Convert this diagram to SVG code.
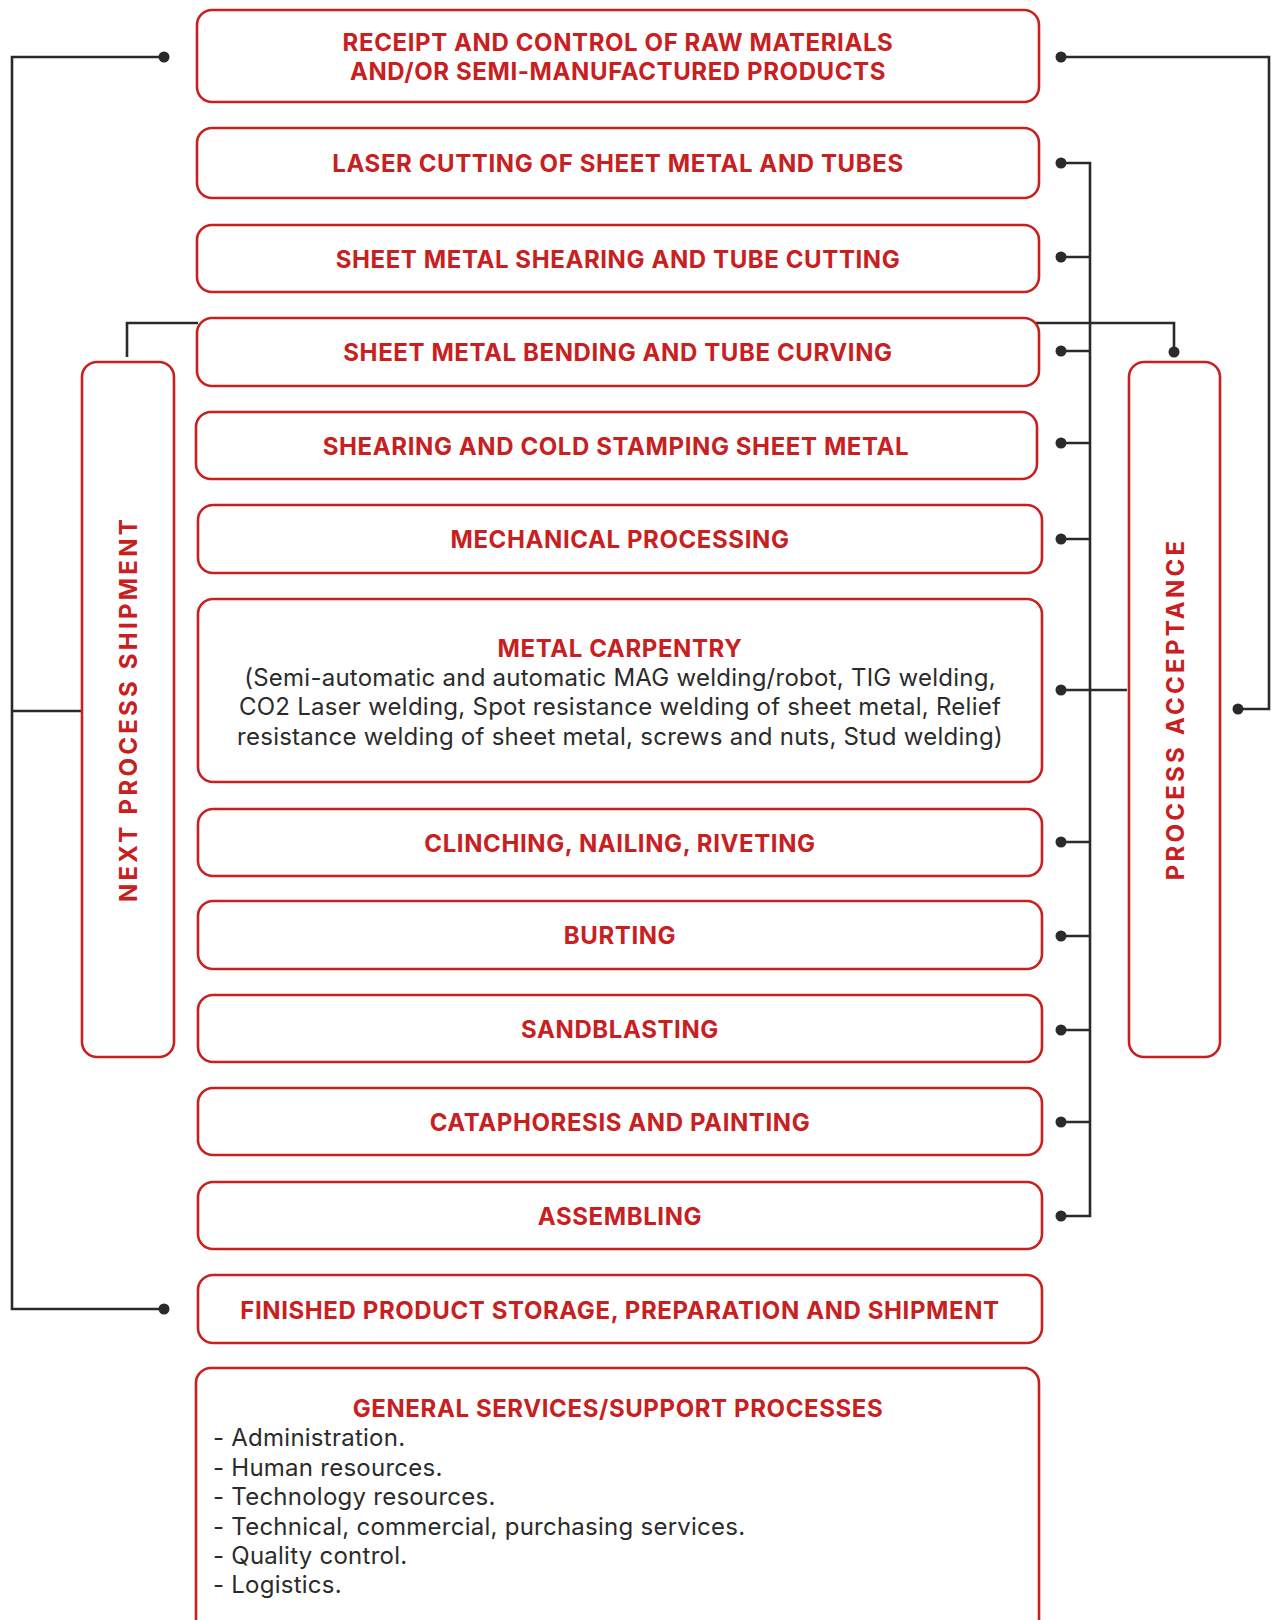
<svg xmlns="http://www.w3.org/2000/svg" width="1271" height="1620" viewBox="0 0 1271 1620">
<defs>
<style>
.box{fill:#fff;stroke:#c8201f;stroke-width:2.6}
.t{font-family:Inter,"Noto Sans","Liberation Sans",sans-serif;font-weight:700;font-size:24px;letter-spacing:0.6px;fill:#c8201f;text-anchor:middle;dominant-baseline:central}
.v{font-family:Inter,"Noto Sans","Liberation Sans",sans-serif;font-weight:700;font-size:24px;fill:#c8201f;text-anchor:middle;dominant-baseline:central;letter-spacing:3.25px}
.b{font-family:Inter,"Noto Sans","Liberation Sans",sans-serif;font-weight:400;font-size:24px;letter-spacing:0.25px;fill:#2b2b2b;dominant-baseline:central}
.c{text-anchor:middle}
.ln{fill:none;stroke:#2a2a2a;stroke-width:2.6}
.dot{fill:#2a2a2a}
</style>
</defs>
<rect width="1271" height="1620" fill="#fff"/>
<g id="connectors">
<path class="ln" d="M164 57 H12 V1309 H164"/>
<path class="ln" d="M82 711 H12"/>
<path class="ln" d="M127 357 V323 H198"/>
<path class="ln" d="M1061 57 H1269 V709 H1238"/>
<path class="ln" d="M1036 323 H1174 V352"/>
<path class="ln" d="M1061 163 H1090 V1216 H1061"/>
<path class="ln" d="M1061 257 H1090 M1061 351 H1090 M1061 443 H1090 M1061 539 H1090 M1061 690 H1127 M1061 842 H1090 M1061 936 H1090 M1061 1030 H1090 M1061 1122 H1090"/>
<circle class="dot" cx="164" cy="57" r="5.5"/>
<circle class="dot" cx="164" cy="1309" r="5.5"/>
<circle class="dot" cx="1061" cy="57" r="5.5"/>
<circle class="dot" cx="1238" cy="709" r="5.5"/>
<circle class="dot" cx="1174" cy="352" r="5.5"/>
<circle class="dot" cx="1061" cy="163" r="5.5"/>
<circle class="dot" cx="1061" cy="257" r="5.5"/>
<circle class="dot" cx="1061" cy="351" r="5.5"/>
<circle class="dot" cx="1061" cy="443" r="5.5"/>
<circle class="dot" cx="1061" cy="539" r="5.5"/>
<circle class="dot" cx="1061" cy="690" r="5.5"/>
<circle class="dot" cx="1061" cy="842" r="5.5"/>
<circle class="dot" cx="1061" cy="936" r="5.5"/>
<circle class="dot" cx="1061" cy="1030" r="5.5"/>
<circle class="dot" cx="1061" cy="1122" r="5.5"/>
<circle class="dot" cx="1061" cy="1216" r="5.5"/>
</g>
<g id="n1"><rect class="box" x="197" y="10" width="842" height="92" rx="15"/>
<text class="t" x="618" y="42">RECEIPT AND CONTROL OF RAW MATERIALS</text>
<text class="t" x="618" y="71">AND/OR SEMI-MANUFACTURED PRODUCTS</text></g>
<g id="n2"><rect class="box" x="197" y="128" width="842" height="70" rx="15"/>
<text class="t" x="618" y="163">LASER CUTTING OF SHEET METAL AND TUBES</text></g>
<g id="n3"><rect class="box" x="197" y="225" width="842" height="67" rx="15"/>
<text class="t" x="618" y="259">SHEET METAL SHEARING AND TUBE CUTTING</text></g>
<g id="n4"><rect class="box" x="197" y="318" width="842" height="68" rx="15"/>
<text class="t" x="618" y="352">SHEET METAL BENDING AND TUBE CURVING</text></g>
<g id="n5"><rect class="box" x="196" y="412" width="841" height="67" rx="15"/>
<text class="t" x="616" y="446">SHEARING AND COLD STAMPING SHEET METAL</text></g>
<g id="n6"><rect class="box" x="198" y="505" width="844" height="68" rx="15"/>
<text class="t" x="620" y="539">MECHANICAL PROCESSING</text></g>
<g id="n7"><rect class="box" x="198" y="599" width="844" height="183" rx="15"/>
<text class="t" x="620" y="648">METAL CARPENTRY</text>
<text class="b c" x="620" y="677">(Semi-automatic and automatic MAG welding/robot, TIG welding,</text>
<text class="b c" x="620" y="706">CO2 Laser welding, Spot resistance welding of sheet metal, Relief</text>
<text class="b c" x="620" y="736">resistance welding of sheet metal, screws and nuts, Stud welding)</text></g>
<g id="n8"><rect class="box" x="198" y="809" width="844" height="67" rx="15"/>
<text class="t" x="620" y="843">CLINCHING, NAILING, RIVETING</text></g>
<g id="n9"><rect class="box" x="198" y="901" width="844" height="68" rx="15"/>
<text class="t" x="620" y="935">BURTING</text></g>
<g id="n10"><rect class="box" x="198" y="995" width="844" height="67" rx="15"/>
<text class="t" x="620" y="1029">SANDBLASTING</text></g>
<g id="n11"><rect class="box" x="198" y="1088" width="844" height="67" rx="15"/>
<text class="t" x="620" y="1122">CATAPHORESIS AND PAINTING</text></g>
<g id="n12"><rect class="box" x="198" y="1182" width="844" height="67" rx="15"/>
<text class="t" x="620" y="1216">ASSEMBLING</text></g>
<g id="n13"><rect class="box" x="198" y="1275" width="844" height="68" rx="15"/>
<text class="t" x="620" y="1310">FINISHED PRODUCT STORAGE, PREPARATION AND SHIPMENT</text></g>
<g id="n14"><rect class="box" x="196" y="1368" width="843" height="270" rx="15"/>
<text class="t" x="618" y="1408">GENERAL SERVICES/SUPPORT PROCESSES</text>
<text class="b" x="213" y="1437">- Administration.</text>
<text class="b" x="213" y="1467">- Human resources.</text>
<text class="b" x="213" y="1496">- Technology resources.</text>
<text class="b" x="213" y="1526">- Technical, commercial, purchasing services.</text>
<text class="b" x="213" y="1555">- Quality control.</text>
<text class="b" x="213" y="1584">- Logistics.</text></g>
<g id="next-process-shipment"><rect class="box" x="82" y="362" width="92" height="695" rx="15"/>
<text class="v" transform="translate(128 709) rotate(-90)">NEXT PROCESS SHIPMENT</text></g>
<g id="process-acceptance"><rect class="box" x="1129" y="362" width="91" height="695" rx="15"/>
<text class="v" transform="translate(1175 709) rotate(-90)">PROCESS ACCEPTANCE</text></g>
</svg>
